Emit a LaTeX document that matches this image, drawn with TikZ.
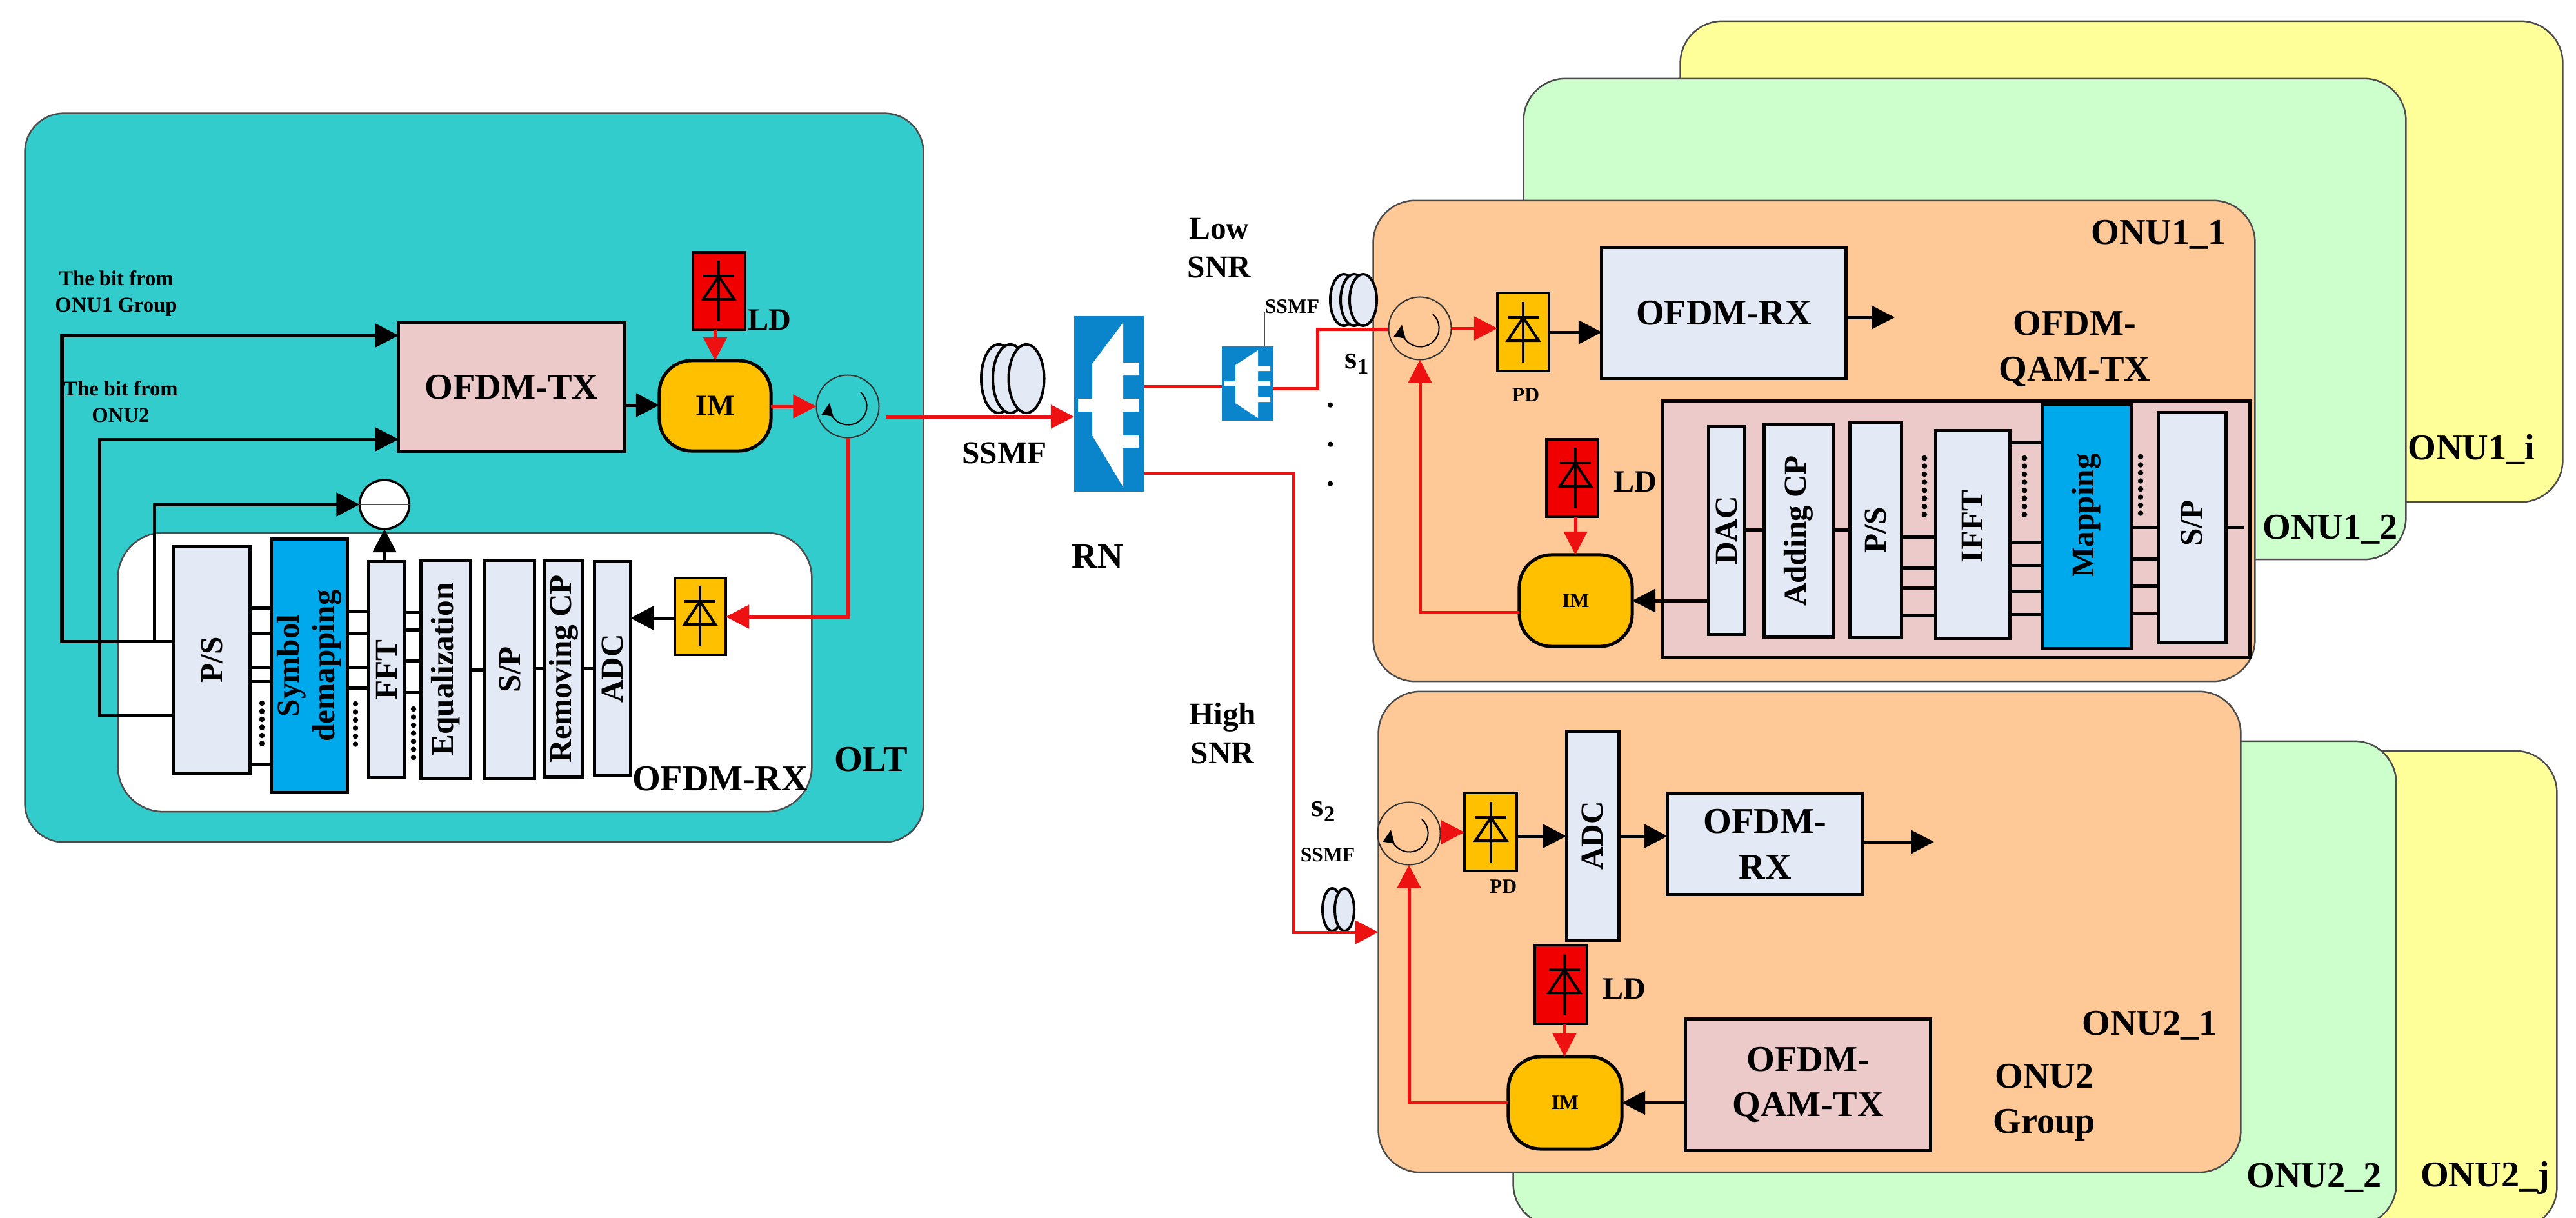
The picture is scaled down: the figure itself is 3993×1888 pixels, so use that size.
\documentclass[tikz,border=0pt]{standalone}
\usepackage{fontspec}
\setmainfont{Liberation Serif}
\usetikzlibrary{arrows.meta,shapes.geometric,calc}
\definecolor{teal0}{HTML}{33CCCC}
\definecolor{orange0}{HTML}{FFC997}
\definecolor{green0}{HTML}{CCFFCC}
\definecolor{yellow0}{HTML}{FFFF99}
\definecolor{cell0}{HTML}{E4EAF5}
\definecolor{pink0}{HTML}{ECCACA}
\definecolor{gold0}{HTML}{FFC000}
\definecolor{sky0}{HTML}{00A8EC}
\definecolor{rn0}{HTML}{0A85CC}
\definecolor{red0}{HTML}{F00000}
\definecolor{line0}{HTML}{EE1111}
\tikzset{
  panel/.style={draw=black!70,line width=.025cm,inner sep=0,outer sep=0},
  olt/.style={panel,fill=teal0,rounded corners=.6cm},
  wht/.style={panel,fill=white,rounded corners=.7cm},
  onua/.style={panel,fill=orange0,rounded corners=.65cm},
  onub/.style={panel,fill=green0,rounded corners=.65cm},
  onuc/.style={panel,fill=yellow0,rounded corners=.65cm},
  cellb/.style={draw=black,line width=.05cm,fill=cell0,inner sep=0,outer sep=0,font=\fontsize{14}{17}\selectfont\bfseries,align=center},
  pinkb/.style={cellb,fill=pink0},
  skyb/.style={cellb,fill=sky0},
  bigb/.style={font=\fontsize{16}{20}\selectfont\bfseries},
  imb/.style={cellb,fill=gold0,rounded corners=.5cm},
  ldb/.style={cellb,fill=red0,line width=.04cm},
  pdb/.style={cellb,fill=gold0,line width=.04cm},
  rnb/.style={fill=rn0,inner sep=0,outer sep=0},
  circl/.style={circle,draw=black!80,line width=.02cm,inner sep=0,outer sep=0,minimum size=.97cm},
  subn/.style={ellipse,draw=black,line width=.035cm,fill=white,inner sep=0,outer sep=0,minimum width=.77cm,minimum height=.76cm},
  fib/.style={draw=black,line width=.04cm,fill=cell0},
  blk/.style={draw=black,line width=.05cm,line join=miter},
  blkar/.style={blk,-{Triangle[length=.36cm,width=.36cm]}},
  redl/.style={draw=line0,line width=.05cm,line join=miter},
  redar/.style={redl,-{Triangle[length=.36cm,width=.36cm]}},
  dotl/.style={draw=black,line width=.085cm,line cap=round,dash pattern=on 0pt off .125cm},
  dio/.style={draw=black,line width=.04cm},
  tbig/.style={inner sep=0,font=\fontsize{16}{20}\selectfont\bfseries,align=center},
  tmid/.style={inner sep=0,font=\fontsize{13.7}{17}\selectfont\bfseries,align=center},
  tsnr/.style={inner sep=0,font=\fontsize{14}{17}\selectfont\bfseries,align=center},
  tsm/.style={inner sep=0,font=\fontsize{9.3}{11.7}\selectfont\bfseries,align=center},
}
\newcommand\pbox[7]{\pgfmathsetmacro\tmpw{(#4-#2)/100}\pgfmathsetmacro\tmph{(#5-#3)/100}\node[#6,minimum width=\tmpw cm,minimum height=\tmph cm] (#1) at ({(#2+#4)/2},{(#3+#5)/2}) {#7};}
\newcommand\vtx[1]{\rotatebox{90}{#1}}
\newcommand\diode[2]{\begin{scope}[shift={(#1,#2)}]
  \draw[dio] (0,-47) -- (0,47);
  \draw[dio] (-24,-23) -- (24,-23);
  \draw[dio,line join=miter] (0,-23) -- (-24,13) -- (24,13) -- cycle;
\end{scope}}
\newcommand\circul[3]{\node[circl] (#1) at (#2,#3) {};
  \draw[draw=black,line width=.02cm,-{Triangle[length=.2cm,width=.18cm]}] ($(#1)+(.2cm,.22cm)$) arc[start angle=48,end angle=-190,radius=.29cm];}
\newcommand\stubs[3]{\foreach \yy in {#3} {\draw[blk] (#1.east |- 0,\yy) -- (#2.west |- 0,\yy);}}
\begin{document}
\begin{tikzpicture}[x=.01cm,y=-.01cm]
\useasboundingbox (0,0) rectangle (3993,1888);
% ONU stacks
\pbox{onuAi}{2605}{33}{3972}{778}{onuc}{}
\pbox{onuAb}{2362}{122}{3729}{867}{onub}{}
\pbox{onuAa}{2129}{311}{3495}{1056}{onua}{}
\pbox{onuBj}{2600}{1164}{3963}{1905}{onuc}{}
\pbox{onuBb}{2346}{1149}{3714}{1900}{onub}{}
\pbox{onuBa}{2137}{1072}{3473}{1817}{onua}{}
% OLT
\pbox{oltp}{39}{176}{1431}{1305}{olt}{}
\pbox{oltrx}{183}{826}{1258}{1258}{wht}{}
\pbox{txO}{618}{501}{968}{699}{pinkb,bigb}{OFDM-TX}
\pbox{imO}{1022}{559}{1195}{699}{imb,font=\fontsize{12.8}{15}\selectfont\bfseries}{IM}
\pbox{ldO}{1074}{391}{1155}{511}{ldb}{}
\diode{1114}{451}
\circul{cO}{1314}{630}
\node[subn] (subO) at (596,782) {};
\draw[draw=black!70,line width=.015cm] (subO.west) -- (subO.east);
\pbox{psO}{270}{848}{387}{1198}{cellb}{\vtx{P/S}}
\pbox{smO}{421}{836}{538}{1228}{skyb}{\vtx{\shortstack{Symbol\\demapping}}}
\pbox{ffO}{572}{871}{627}{1205}{cellb}{\vtx{FFT}}
\pbox{eqO}{653}{869}{729}{1206}{cellb}{\vtx{Equalization}}
\pbox{spO}{752}{869}{828}{1206}{cellb}{\vtx{S/P}}
\pbox{rcO}{845}{869}{903}{1204}{cellb}{\vtx{Removing CP}}
\pbox{adO}{922}{871}{977}{1202}{cellb}{\vtx{ADC}}
\pbox{pdO}{1046}{896}{1125}{1015}{pdb}{}
\diode{1085}{955}
\stubs{psO}{smO}{942,981,1034,1056,1184}
\stubs{smO}{ffO}{947,982,1034,1066}
\stubs{ffO}{eqO}{949,976,1024,1073}
\stubs{eqO}{spO}{1038}
\stubs{spO}{rcO}{1036}
\stubs{rcO}{adO}{1036}
\draw[dotl] (406,1090) -- (406,1165);
\draw[dotl] (551,1091) -- (551,1166);
\draw[dotl] (641,1099) -- (641,1175);
\draw[blkar] (psO.west |- 0,994) -- (96,994) -- (96,520) -- (txO.west |- 0,520);
\draw[blkar] (psO.west |- 0,1109) -- (154,1109) -- (154,681) -- (txO.west |- 0,681);
\draw[blkar] (239,994) -- (239,782) -- (subO.west);
\draw[blkar] (ffO.north -| subO) -- (subO.south);
\draw[blkar] (txO.east |- 0,628) -- (imO.west |- 0,628);
\draw[redar] (ldO.south -| imO) -- (imO.north);
\draw[redar] (imO.east |- cO) -- (cO.west);
\draw[redar] (cO.south) -- (cO.south |- 0,956) -- (pdO.east |- 0,956);
\draw[blkar] (pdO.west |- 0,958) -- (adO.east |- 0,958);
\node[tsm] (bit1) at (180,455) {The bit from\\ONU1 Group};
\node[tsm] (bit2) at (187,623) {The bit from\\ONU2};
\node[tmid] (ldOl) at (1193,496) {LD};
\node[tbig] (oltrxl) at (1116,1207) {OFDM-RX};
\node[tbig] (oltl) at (1350,1177) {OLT};
% Fibres
\draw[fib] (1548,587) ellipse (.27cm and .53cm);
\draw[fib] (1566,587) ellipse (.27cm and .53cm);
\draw[fib] (1591,587) ellipse (.275cm and .53cm);
\draw[fib] (2083,465) ellipse (.21cm and .40cm);
\draw[fib] (2099,465) ellipse (.21cm and .40cm);
\draw[fib] (2113,465) ellipse (.21cm and .40cm);
\draw[fib] (2065,1410) ellipse (.15cm and .33cm);
\draw[fib] (2084,1410) ellipse (.15cm and .33cm);
% RN
\pbox{rn}{1665}{490}{1773}{762}{rnb}{}
\fill[white] (1671,618) -- (1693,618) -- (1693,564) -- (1741,500) -- (1741,562) -- (1765,562) -- (1765,582) -- (1741,582) -- (1741,618) -- (1765,618) -- (1765,638) -- (1741,638) -- (1741,675) -- (1765,675) -- (1765,694) -- (1741,694) -- (1741,755) -- (1693,675) -- (1693,638) -- (1671,638) -- cycle;
\pbox{spl}{1894}{537}{1974}{652}{rnb}{}
\fill[white] (1897,591) -- (1915,591) -- (1915,566) -- (1950,543) -- (1950,568) -- (1969,568) -- (1969,575) -- (1950,575) -- (1950,591) -- (1969,591) -- (1969,598) -- (1950,598) -- (1950,615) -- (1969,615) -- (1969,623) -- (1950,623) -- (1950,648) -- (1915,625) -- (1915,598) -- (1897,598) -- cycle;
\coordinate (oltout) at (1373,646);
\draw[redar] (oltout) -- (rn.west |- 0,646);
\draw[redl] (rn.east |- 0,599) -- (spl.west |- 0,599);
\draw[draw=black!70,line width=.02cm] (spl.north -| 1960,0) -- (1960,484);
\coordinate (onu2in) at (onuBa.west |- 0,1445);
\draw[redar] (rn.east |- 0,733) -- (2005,733) -- (2005,1445) -- (onu2in);
\node[tsnr] (ssmfm) at (1557,702) {SSMF};
\node[tsm,font=\fontsize{9}{11}\selectfont\bfseries] (ssmfa) at (2003,475) {SSMF};
\node[tsm,font=\fontsize{9}{11}\selectfont\bfseries] (ssmfb) at (2058,1325) {SSMF};
\node[tsnr] (low) at (1890,385) {Low\\SNR};
\node[tsnr] (high) at (1895,1137) {High\\SNR};
\node[tbig,font=\fontsize{15.7}{19}\selectfont\bfseries] (rnl) at (1701,862) {RN};
\node[tsnr] (s1) at (2104,564) {s\textsubscript{1}};
\node[tsnr] (s2) at (2052,1258) {s\textsubscript{2}};
\node[tsnr] (d1) at (2063,628) {.};
\node[tsnr] (d2) at (2063,689) {.};
\node[tsnr] (d3) at (2063,750) {.};
% ONU1_1
\circul{cA}{2201}{509}
\pbox{pdA}{2321}{454}{2401}{575}{pdb}{}
\diode{2361}{515}
\pbox{rxA}{2483}{384}{2861}{586}{cellb,bigb}{OFDM-RX}
\pbox{txA}{2578}{622}{3487}{1019}{pinkb}{}
\pbox{daA}{2648}{662}{2704}{983}{cellb}{\vtx{DAC}}
\pbox{acA}{2734}{659}{2841}{987}{cellb}{\vtx{Adding CP}}
\pbox{psA}{2867}{656}{2947}{988}{cellb}{\vtx{P/S}}
\pbox{ifA}{3000}{668}{3115}{989}{cellb}{}
\node[tsnr] (ifAl) at (3057,816) {\vtx{IFFT}};
\pbox{mpA}{3166}{628}{3303}{1005}{skyb}{}
\node[tsnr] (mpAl) at (3234,799) {\vtx{Mapping}};
\pbox{sqA}{3345}{640}{3450}{996}{cellb}{}
\node[tsnr] (sqAl) at (3397,811) {\vtx{S/P}};
\pbox{ldA}{2397}{681}{2477}{801}{ldb}{}
\diode{2442}{741}
\pbox{imA}{2355}{860}{2530}{1002}{imb,font=\fontsize{9}{11}\selectfont\bfseries}{IM}
\stubs{daA}{acA}{821}
\stubs{acA}{psA}{821}
\stubs{psA}{ifA}{832,880,911,954}
\stubs{ifA}{mpA}{686,840,876,916,952}
\stubs{mpA}{sqA}{817,866,908,951}
\coordinate (spstub) at (3478,817);
\draw[blk] (sqA.east |- spstub) -- (spstub);
\draw[dotl] (2983,710) -- (2983,807);
\draw[dotl] (3138,710) -- (3138,807);
\draw[dotl] (3318,708) -- (3318,805);
\draw[redar] (cA.east |- 0,509) -- (pdA.west |- 0,509);
\draw[blkar] (pdA.east |- 0,515) -- (rxA.west |- 0,515);
\coordinate (rxAout) at (2937,492);
\draw[blkar] (rxA.east |- rxAout) -- (rxAout);
\draw[redar] (ldA.south -| 2442,0) -- (imA.north -| 2442,0);
\draw[blkar] (daA.west |- 0,931) -- (imA.east |- 0,931);
\draw[redar] (imA.west |- 0,949) -- (cA.south |- 0,949) -- (cA.south);
\draw[redl] (spl.east |- 0,602) -- (2042,602) -- (2042,510) -- (cA.west |- 0,510);
\node[tsm,font=\fontsize{9}{11}\selectfont\bfseries] (pdAl) at (2365,612) {PD};
\node[tmid] (ldAl) at (2535,747) {LD};
\node[tbig] (qamA) at (3216,541) {OFDM-\\QAM-TX};
\node[tbig] (onuA1) at (3346,364) {ONU1\_1};
\node[tbig] (onuA2) at (3612,821) {ONU1\_2};
\node[tbig] (onuAil) at (3831,697) {ONU1\_i};
% ONU2_1
\circul{cB}{2184}{1292}
\pbox{pdB}{2270}{1229}{2351}{1350}{pdb}{}
\diode{2311}{1290}
\pbox{adB}{2428}{1134}{2509}{1457}{cellb}{\vtx{ADC}}
\pbox{rxB}{2585}{1231}{2887}{1386}{cellb,bigb,align=center}{OFDM-\\RX}
\pbox{ldB}{2379}{1465}{2460}{1587}{ldb}{}
\diode{2425}{1526}
\pbox{imB}{2338}{1638}{2514}{1781}{imb,font=\fontsize{9}{11}\selectfont\bfseries}{IM}
\pbox{txB}{2613}{1580}{2992}{1783}{pinkb,bigb,align=center}{OFDM-\\QAM-TX}
\draw[redar] (cB.east |- 0,1290) -- (pdB.west |- 0,1290);
\draw[blkar] (pdB.east |- 0,1296) -- (adB.west |- 0,1296);
\draw[blkar] (adB.east |- 0,1296) -- (rxB.west |- 0,1296);
\coordinate (rxBout) at (2998,1305);
\draw[blkar] (rxB.east |- rxBout) -- (rxBout);
\draw[redar] (ldB.south -| 2425,0) -- (imB.north -| 2425,0);
\draw[blkar] (txB.west |- imB) -- (imB.east);
\draw[redar] (imB.west) -- (imB.west -| cB.south) -- (cB.south);
\node[tsm,font=\fontsize{9}{11}\selectfont\bfseries] (pdBl) at (2330,1374) {PD};
\node[tmid] (ldBl) at (2518,1533) {LD};
\node[tbig] (onuB1) at (3332,1590) {ONU2\_1};
\node[tbig] (grp) at (3169,1709) {ONU2\\Group};
\node[tbig] (onuB2) at (3587,1826) {ONU2\_2};
\node[tbig] (onuBjl) at (3852,1826) {ONU2\_j};
\end{tikzpicture}
\end{document}
